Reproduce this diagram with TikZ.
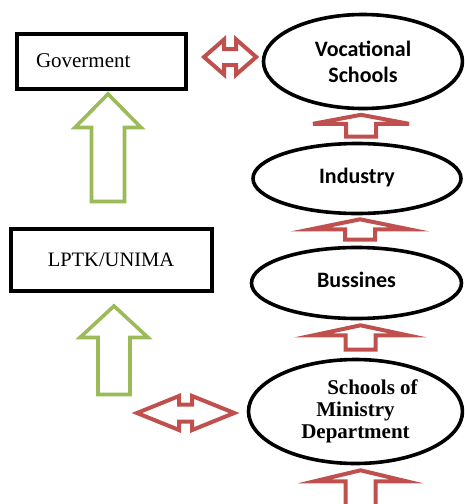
\documentclass[tikz,border=0pt]{standalone}
\usepackage{fontspec}
\setmainfont{Liberation Serif}
\newfontfamily\calibrifont{Carlito}
\usetikzlibrary{calc,shapes}

\definecolor{arrred}{HTML}{C0504D}
\definecolor{arrgreen}{HTML}{9BBB59}

% hollow block arrow pointing up: style, tail, tip, shaft half, head half, head length
\newcommand{\blockup}[6]{%
  \draw[#1] let \p1=#2, \p2=#3 in
    (\x2,\y2) -- (\x2+#5pt,\y2-#6pt) -- (\x2+#4pt,\y2-#6pt) -- (\x2+#4pt,\y1)
    -- (\x2-#4pt,\y1) -- (\x2-#4pt,\y2-#6pt) -- (\x2-#5pt,\y2-#6pt) -- cycle;}
% hollow double block arrow, left/right: style, left tip, right tip, shaft half, head half, head length
\newcommand{\blockboth}[6]{%
  \draw[#1] let \p1=#2, \p2=#3 in
    (\x1,\y1) -- (\x1+#6pt,\y1+#5pt) -- (\x1+#6pt,\y1+#4pt) -- (\x2-#6pt,\y1+#4pt)
    -- (\x2-#6pt,\y1+#5pt) -- (\x2,\y1) -- (\x2-#6pt,\y1-#5pt) -- (\x2-#6pt,\y1-#4pt)
    -- (\x1+#6pt,\y1-#4pt) -- (\x1+#6pt,\y1-#5pt) -- cycle;}

\begin{document}
\begin{tikzpicture}[x=1pt,y=-1pt]
	\tikzstyle{office}=[draw=black, line width=4pt, rectangle, inner sep=0pt, font=\fontsize{21}{24}\selectfont]
	\tikzstyle{place}=[draw=black, line width=3.6pt, ellipse, inner sep=0pt, align=center, font=\calibrifont\bfseries\fontsize{22}{26}\selectfont]
	\tikzstyle{flow}=[draw=arrred, line width=4pt]
	\tikzstyle{support}=[draw=arrgreen, line width=3.6pt]

	\clip (0,0) rectangle (464,504);
	\fill[white] (0,0) rectangle (464,504);

	\node (gov) [office, minimum width=169pt, minimum height=55pt, text width=130pt, align=left, inner xsep=19.5pt] at (101,61) {Goverment};
	\node (lptk) [office, minimum width=201pt, minimum height=62pt, font=\fontsize{20.5}{24}\selectfont] at (111,259.5) {LPTK/UNIMA};

	\node (voc) [place, minimum width=199pt, minimum height=94pt] at (363,61.5) {Vocational\\Schools};
	\node (ind) [place, minimum width=208pt, minimum height=70pt] at (357,178.5) {\raisebox{5pt}{Industry}};
	\node (bus) [place, minimum width=210pt, minimum height=71pt] at (356.5,283) {\raisebox{6pt}{Bussines}};
	\node (sch) [place, minimum width=214pt, minimum height=104pt, font=\bfseries\fontsize{21}{22}\selectfont] at (355.5,411.5) {\hspace*{34pt}Schools of\\Ministry\\Department};

	\coordinate (base) at (360,512);
	\coordinate (side) at (137,413);
	\coordinate (feed) at (114,394.5);

	% links on the right
	\blockup{flow}{($(ind.north)+(0,-5)$)}{($(voc.south)+(-2,4.5)$)}{15}{48}{9}
	\blockup{flow}{($(bus.north)+(0,-6)$)}{($(ind.south)+(3,4)$)}{15}{49}{10}
	\blockup{flow}{($(sch.north)+(0,-8)$)}{($(bus.south)+(4,5)$)}{15}{47}{10}
	\blockup{flow}{(base)}{($(sch.south)+(5,5)$)}{15}{46}{11}

	% links on the left
	\blockup{support}{($(lptk.north)+(0,-25)$)}{($(gov.south)+(7,3.5)$)}{16.5}{33}{33.5}
	\blockup{support}{(feed)}{($(lptk.south)+(3,13.5)$)}{16}{34}{31.5}

	\blockboth{flow}{($(gov.east)+(16.5,-4)$)}{($(voc.west)+(-5.5,-4.5)$)}{8}{17.5}{20}
	\blockboth{flow}{(side)}{($(sch.west)+(-12.5,1.5)$)}{8.5}{17}{42}
\end{tikzpicture}
\end{document}
